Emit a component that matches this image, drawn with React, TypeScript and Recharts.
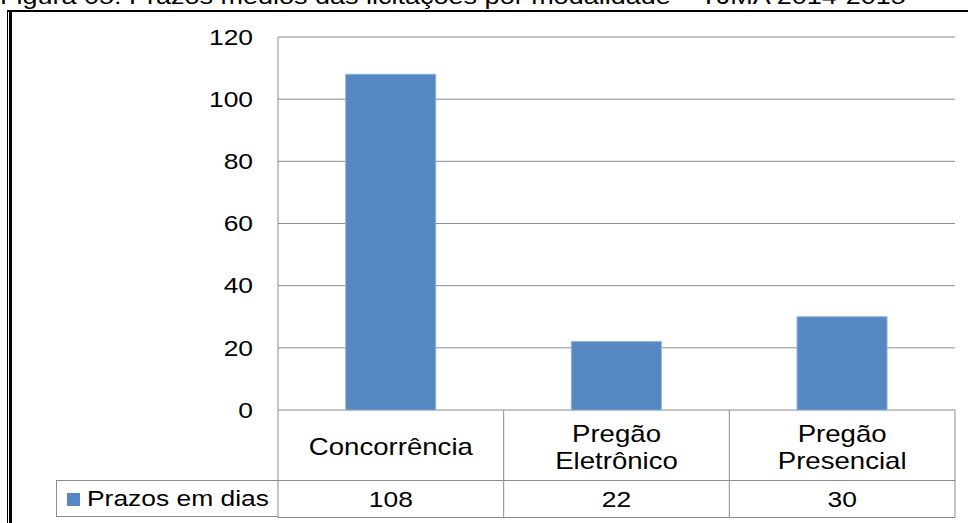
import React from "react";
import { BarChart, Bar, XAxis, YAxis, CartesianGrid } from "recharts";

// modalidades e prazos médios (dias)
const categories = ["Concorrência", "Pregão Eletrônico", "Pregão Presencial"];
const prazos = [108, 22, 30];
const yTicks = [0, 20, 40, 60, 80, 100, 120];
const seriesName = "Prazos em dias";
const title = "Figura 05: Prazos médios das licitações por modalidade – TJMA 2014-2015";

const data = categories.map((name, i) => ({ name, prazo: prazos[i] }));

const FONT = "'Liberation Sans', Arial, sans-serif";
const GRID = "#8c8c8c";
const BAR = "#5588c3";
const SX = 1.2; // texto esticado na horizontal, como no original

const YTick = (props: any) => {
  const { x, y, payload } = props;
  return (
    <g transform={`translate(${x},${y}) scale(${SX},1)`}>
      <text x={0} y={0} textAnchor="end" dominantBaseline="central" fontSize={22} fontFamily={FONT} fill="#000">
        {payload.value}
      </text>
    </g>
  );
};

// cada tick do eixo X desenha a coluna da tabela de dados
const TableTick = (props: any) => {
  const { x, y, payload, index, width, visibleTicksCount } = props;
  const bw = (width || 677) / (visibleTicksCount || categories.length);
  const left = x - bw / 2;
  const right = x + bw / 2;
  const lines = String(payload.value).split(" ");
  const lh = 27;
  const cy = y + 37;
  return (
    <g>
      <line x1={left} x2={right} y1={y + 70.5} y2={y + 70.5} stroke={GRID} />
      <line x1={left} x2={right} y1={y + 107.5} y2={y + 107.5} stroke={GRID} />
      {index === 0 && <line x1={left} x2={left} y1={y} y2={y + 108} stroke={GRID} />}
      <line x1={right} x2={right} y1={y} y2={y + 108} stroke={GRID} />
      {lines.map((t, i) => (
        <g key={i} transform={`translate(${x},${cy + (i - (lines.length - 1) / 2) * lh}) scale(${SX},1)`}>
          <text x={0} y={0} textAnchor="middle" dominantBaseline="central" fontSize={23} fontFamily={FONT} fill="#000">
            {t}
          </text>
        </g>
      ))}
      <g transform={`translate(${x},${y + 89}) scale(${SX},1)`}>
        <text x={0} y={0} textAnchor="middle" dominantBaseline="central" fontSize={22} fontFamily={FONT} fill="#000">
          {prazos[index]}
        </text>
      </g>
    </g>
  );
};

export default function App() {
  return (
    <div style={{ position: "absolute", left: 0, top: 0, width: 968, height: 523, overflow: "hidden", background: "#fff" }}>
      <div
        style={{
          position: "absolute", left: 0, top: -14, fontFamily: FONT, fontSize: 22, lineHeight: "22px",
          whiteSpace: "nowrap", transform: "scaleX(1.227)", transformOrigin: "left top", color: "#000",
        }}
      >
        {title}
      </div>
      <div style={{ position: "absolute", left: 7, top: 10, width: 961, height: 2, background: "#000" }} />
      <div style={{ position: "absolute", left: 7, top: 10, width: 1, height: 513, background: "#000" }} />
      <div style={{ position: "absolute", left: 9, top: 10, width: 3, height: 513, background: "#000" }} />

      <div style={{ position: "absolute", left: 0, top: 0 }}>
        <BarChart width={968} height={523} data={data} margin={{ top: 37, right: 13, bottom: 5, left: 0 }} barCategoryGap="30%">
          <CartesianGrid vertical={false} stroke={GRID} />
          <YAxis
            width={278}
            domain={[0, 120]}
            ticks={yTicks}
            interval={0}
            tickLine={false}
            tickSize={0}
            tickMargin={25}
            axisLine={{ stroke: GRID }}
            tick={<YTick />}
          />
          <XAxis
            dataKey="name"
            height={108}
            interval={0}
            axisLine={false}
            tickLine={false}
            tickSize={0}
            tickMargin={0}
            tick={<TableTick />}
          />
          <Bar dataKey="prazo" name={seriesName} fill={BAR} stroke="#8fb0da" strokeWidth={1} isAnimationActive={false} />
        </BarChart>
      </div>

      {/* célula da legenda na tabela */}
      <div
        style={{
          position: "absolute", left: 56, top: 480, width: 222, height: 37, boxSizing: "border-box",
          borderLeft: `1px solid ${GRID}`, borderTop: `1px solid ${GRID}`, borderBottom: `1px solid ${GRID}`,
        }}
      >
        <div style={{ position: "absolute", left: 10, top: 12, width: 13, height: 13, background: BAR }} />
        <div
          style={{
            position: "absolute", left: 30, top: 7, fontFamily: FONT, fontSize: 22, lineHeight: "22px",
            whiteSpace: "nowrap", transform: `scaleX(${SX})`, transformOrigin: "left top", color: "#000",
          }}
        >
          {seriesName}
        </div>
      </div>
    </div>
  );
}
